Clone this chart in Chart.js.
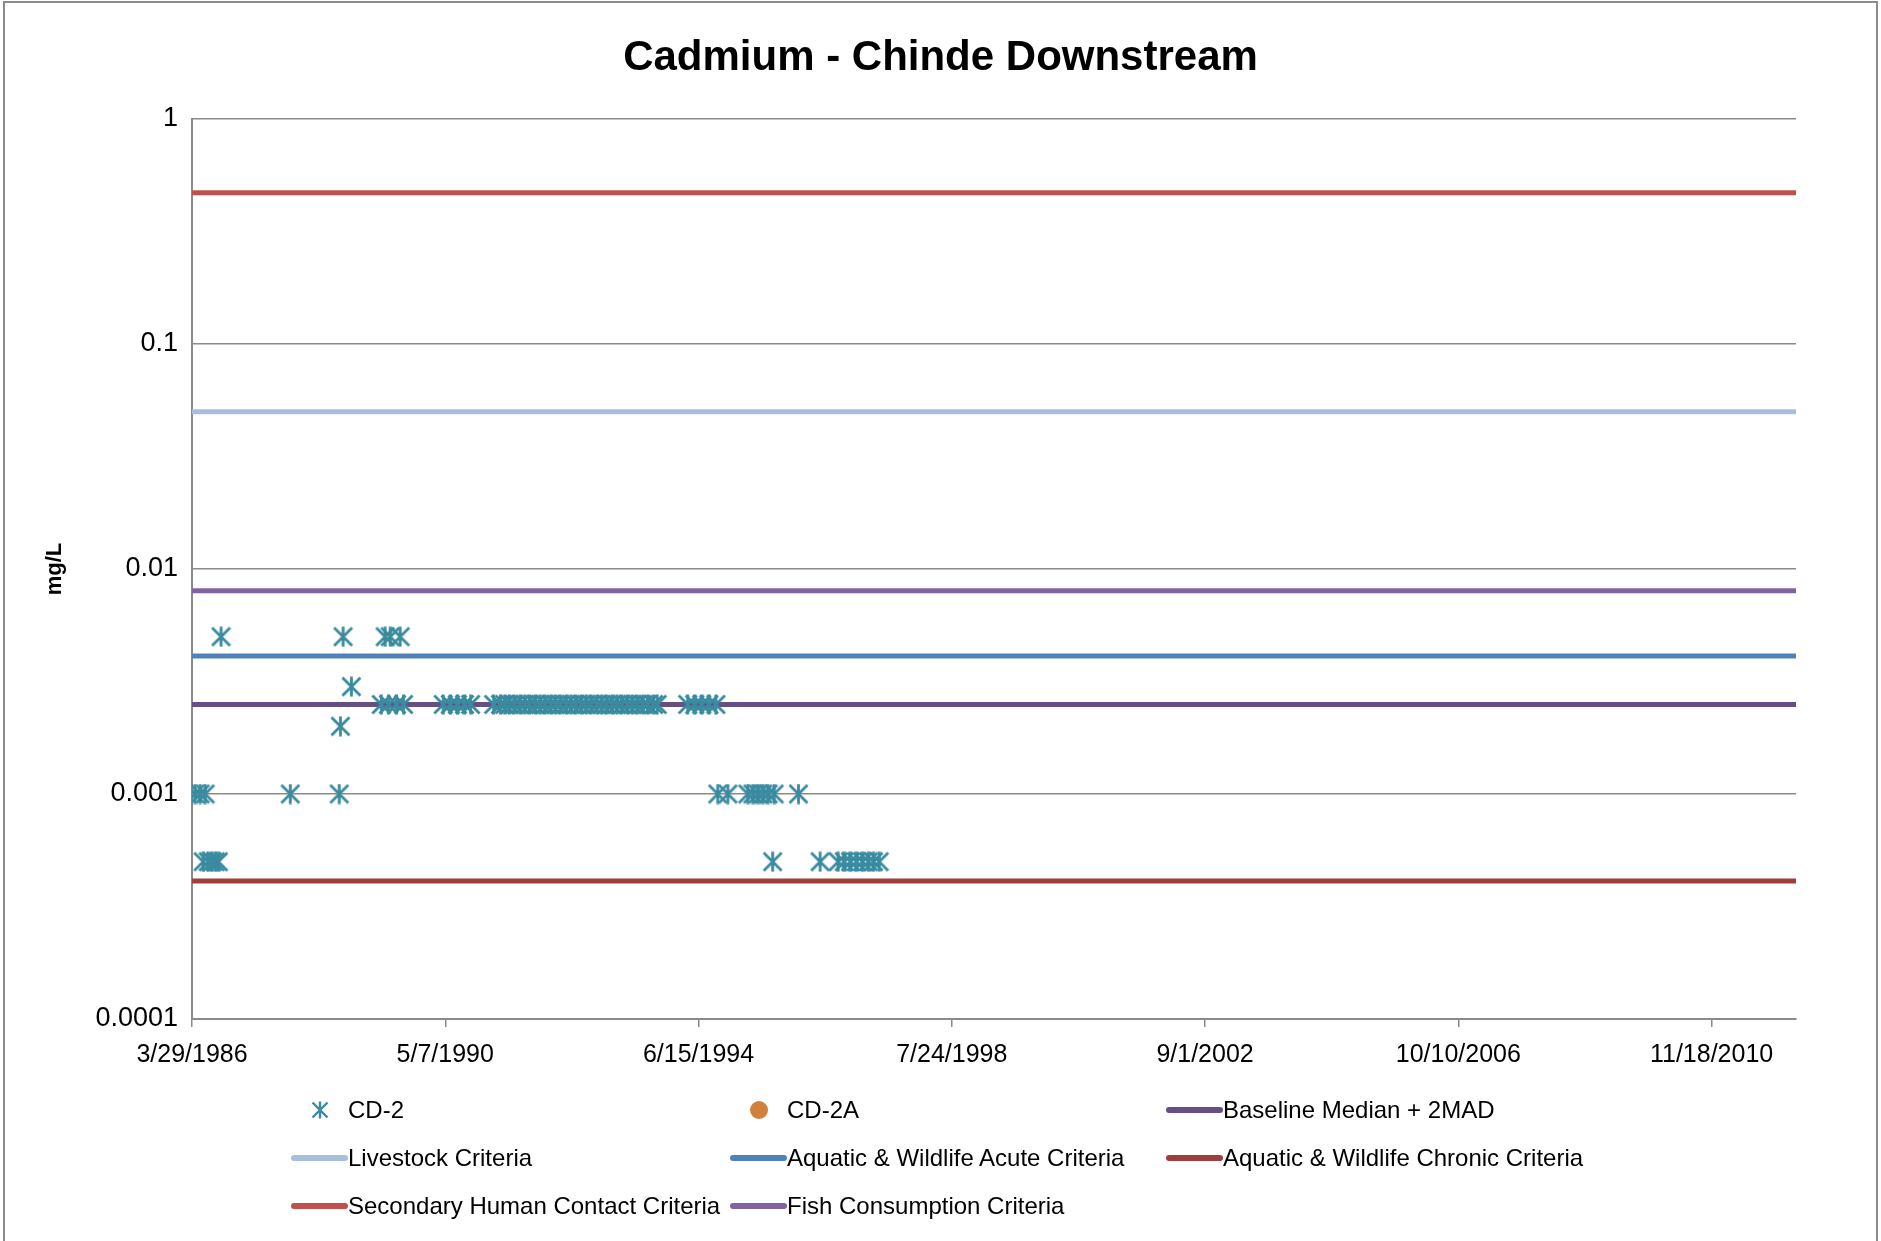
<!DOCTYPE html>
<html>
<head>
<meta charset="utf-8">
<script src="https://cdn.jsdelivr.net/npm/chart.js@4.4.1/dist/chart.umd.min.js"></script>
<style>
  body { margin: 0; width: 1881px; height: 1241px; position: relative; overflow: hidden; background: #fff; font-family: 'Liberation Sans', Arial, sans-serif; }
  #frame { position: absolute; left: 3px; top: 1px; width: 1871px; height: 1300px; border: 2px solid #8c8c8c; }
  #chart { position: absolute; left: 0; top: 0; }
  #title { position: absolute; left: 0; top: 35px; width: 1881px; text-align: center; font-weight: bold; font-size: 42px; line-height: 42px; color: #000; }
  .item { position: absolute; height: 40px; display: flex; align-items: center; font-size: 24px; color: #000; white-space: nowrap; }
  .sym { width: 57px; height: 40px; display: flex; align-items: center; justify-content: center; flex: none; }
  .bar { width: 57px; height: 6px; border-radius: 3px; }
  .dot { width: 18px; height: 18px; border-radius: 50%; }
</style>
</head>
<body>
<div id="frame"></div>
<canvas id="chart" width="1881" height="1241"></canvas>
<div id="title">Cadmium - Chinde Downstream</div>
<div id="legend"></div>
<script>
// CD-2 samples (sample date, mg/L)
const cd2Dates = [
  '4/16/1986', '5/16/1986', '6/15/1986', '6/3/1986', '7/3/1986', '7/27/1986', '8/14/1986', '9/1/1986', '9/17/1986',
  '11/1/1987', '8/17/1988', '8/24/1988', '9/9/1988', '10/28/1988',
  '4/23/1989', '5/16/1989', '6/5/1989', '6/15/1989', '7/22/1989', '8/13/1989', '9/2/1989',
  '4/25/1990', '6/6/1990', '7/18/1990', '8/29/1990', '10/4/1990', '2/18/1991',
  '3/30/1991', '4/24/1991', '5/22/1991', '6/19/1991', '7/24/1991', '8/21/1991', '9/18/1991', '10/23/1991',
  '11/20/1991', '12/18/1991', '1/22/1992', '2/19/1992', '3/18/1992', '4/22/1992', '5/20/1992', '6/17/1992',
  '7/22/1992', '8/19/1992', '9/16/1992', '10/21/1992', '11/18/1992', '12/16/1992', '1/20/1993', '2/17/1993',
  '3/17/1993', '4/21/1993', '5/19/1993', '6/16/1993', '7/21/1993', '8/18/1993', '9/22/1993', '10/13/1993',
  '4/12/1994', '5/24/1994', '7/4/1994', '8/15/1994', '9/26/1994',
  '10/7/1994', '12/6/1994', '4/3/1995', '5/3/1995', '6/2/1995', '7/2/1995', '8/1/1995', '9/6/1995', '1/28/1996',
  '8/28/1995', '6/4/1996', '9/19/1996', '10/25/1996', '12/1/1996', '1/5/1997', '2/10/1997', '3/17/1997', '4/16/1997', '5/20/1997'
];
const cd2Values = [
  0.001, 0.001, 0.001, 0.0005, 0.0005, 0.0005, 0.0005, 0.0005, 0.005,
  0.001, 0.001, 0.002, 0.005, 0.003,
  0.0025, 0.005, 0.0025, 0.005, 0.0025, 0.005, 0.0025,
  0.0025, 0.0025, 0.0025, 0.0025, 0.0025, 0.0025,
  0.0025, 0.0025, 0.0025, 0.0025, 0.0025, 0.0025, 0.0025, 0.0025,
  0.0025, 0.0025, 0.0025, 0.0025, 0.0025, 0.0025, 0.0025, 0.0025,
  0.0025, 0.0025, 0.0025, 0.0025, 0.0025, 0.0025, 0.0025, 0.0025,
  0.0025, 0.0025, 0.0025, 0.0025, 0.0025, 0.0025, 0.0025, 0.0025,
  0.0025, 0.0025, 0.0025, 0.0025, 0.0025,
  0.001, 0.001, 0.001, 0.001, 0.001, 0.001, 0.001, 0.001, 0.001,
  0.0005, 0.0005, 0.0005, 0.0005, 0.0005, 0.0005, 0.0005, 0.0005, 0.0005, 0.0005
];
// CD-2A has no samples on this chart
const cd2aDates = [];
const cd2aValues = [];

const criteriaNames = [
  'Baseline Median + 2MAD', 'Livestock Criteria', 'Aquatic & Wildlife Acute Criteria',
  'Aquatic & Wildlife Chronic Criteria', 'Secondary Human Contact Criteria', 'Fish Consumption Criteria'
];
const criteriaValues = [0.0025, 0.05, 0.0041, 0.00041, 0.47, 0.008];
const criteriaColors = ['#654f85', '#a9bedd', '#4f81bd', '#a03e3b', '#c0504d', '#8064a2'];

const xTickLabels = ['3/29/1986', '5/7/1990', '6/15/1994', '7/24/1998', '9/1/2002', '10/10/2006', '11/18/2010'];
const xAxisEnd = '4/1/2012';
const yTickLabels = ['0.0001', '0.001', '0.01', '0.1', '1'];

const teal = '#3a8ba0';
const gray = '#8a8a8a';

// Excel-style day number from M/D/YYYY
function toSerial(s) {
  const [m, d, y] = s.split('/').map(Number);
  return Math.round((Date.UTC(y, m - 1, d) - Date.UTC(1899, 11, 30)) / 864e5);
}

function makeStar(size, color, lw) {
  const c = document.createElement('canvas');
  c.width = c.height = size;
  const g = c.getContext('2d');
  g.strokeStyle = color;
  g.lineWidth = lw;
  const a = 1.5, b = size - 1.5;
  g.beginPath();
  g.moveTo(a, a); g.lineTo(b, b);
  g.moveTo(b, a); g.lineTo(a, b);
  g.moveTo(size / 2, 0.5); g.lineTo(size / 2, size - 0.5);
  g.stroke();
  return c;
}

const xMin = toSerial(xTickLabels[0]);
const xMax = toSerial(xAxisEnd);

const datasets = [
  {
    label: 'CD-2',
    data: cd2Dates.map((d, i) => ({ x: toSerial(d), y: cd2Values[i] })),
    pointStyle: makeStar(21, teal, 2.8),
    borderColor: teal, backgroundColor: teal,
    legendKind: 'star'
  },
  {
    label: 'CD-2A',
    data: cd2aDates.map((d, i) => ({ x: toSerial(d), y: cd2aValues[i] })),
    pointStyle: 'circle', pointRadius: 8,
    borderColor: '#d0803a', backgroundColor: '#d0803a',
    legendKind: 'dot'
  }
];
criteriaNames.forEach((name, i) => {
  datasets.push({
    label: name,
    data: [{ x: xMin, y: criteriaValues[i] }, { x: xMax, y: criteriaValues[i] }],
    showLine: true, pointRadius: 0,
    borderColor: criteriaColors[i], backgroundColor: criteriaColors[i],
    borderWidth: 5,
    legendKind: 'line'
  });
});

const chart = new Chart(document.getElementById('chart'), {
  type: 'scatter',
  data: { datasets },
  options: {
    responsive: false,
    animation: false,
    devicePixelRatio: 1,
    layout: { padding: { top: 119, right: 85, left: 0, bottom: 0 } },
    plugins: { legend: { display: false }, tooltip: { enabled: false } },
    scales: {
      x: {
        type: 'linear', min: xMin, max: xMax,
        afterBuildTicks: a => { a.ticks = xTickLabels.map(t => ({ value: toSerial(t) })); },
        afterFit: s => { s.height = 222; },
        ticks: {
          callback: (v, i) => xTickLabels[i],
          autoSkip: false, maxRotation: 0, padding: 13,
          color: '#000', font: { family: 'Liberation Sans', size: 25 }
        },
        grid: { drawOnChartArea: false, drawTicks: true, tickLength: 8, color: gray, lineWidth: 1.5 },
        border: { color: gray, width: 2 }
      },
      y: {
        type: 'logarithmic', min: 0.0001, max: 1,
        afterBuildTicks: a => { a.ticks = yTickLabels.map(t => ({ value: parseFloat(t) })); },
        afterFit: s => { s.width = 192; },
        ticks: {
          callback: (v, i) => yTickLabels[i],
          padding: 14,
          color: '#000', font: { family: 'Liberation Sans', size: 27 }
        },
        grid: { drawTicks: false, color: gray, lineWidth: 1.5 },
        border: { color: gray, width: 2 },
        title: {
          display: true, text: 'mg/L', color: '#000',
          font: { family: 'Liberation Sans', size: 22, weight: 'bold' },
          padding: { top: 42, bottom: 0 }
        }
      }
    }
  }
});

// legend in three columns, built from the chart's datasets
const legendCols = [291, 730, 1166];
const legendRows = [1110, 1158, 1206];
const legend = document.getElementById('legend');
chart.data.datasets.forEach((ds, i) => {
  const item = document.createElement('div');
  item.className = 'item';
  item.style.left = legendCols[i % 3] + 'px';
  item.style.top = (legendRows[Math.floor(i / 3)] - 20) + 'px';
  const sym = document.createElement('div');
  sym.className = 'sym';
  if (ds.legendKind === 'star') {
    sym.appendChild(makeStar(18, teal, 2.4));
  } else {
    const m = document.createElement('div');
    m.className = ds.legendKind === 'dot' ? 'dot' : 'bar';
    m.style.background = ds.borderColor;
    sym.appendChild(m);
  }
  const txt = document.createElement('span');
  txt.textContent = ds.label;
  item.appendChild(sym);
  item.appendChild(txt);
  legend.appendChild(item);
});
</script>
</body>
</html>
